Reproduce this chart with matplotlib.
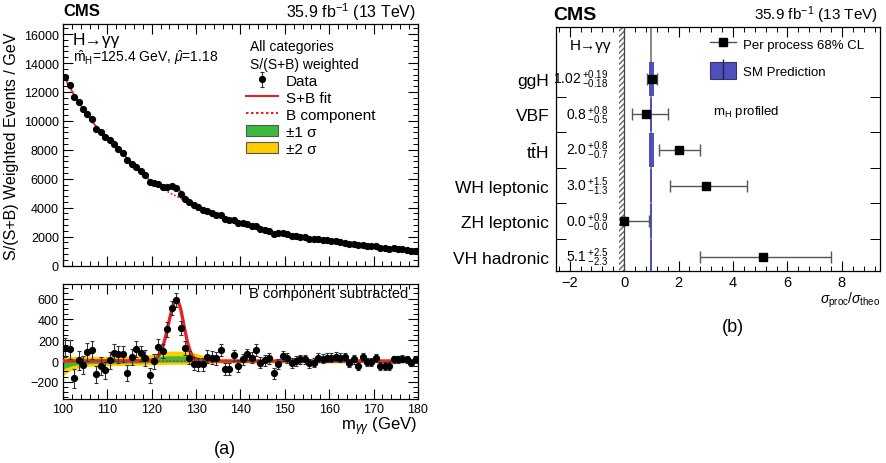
import numpy as np
import matplotlib
matplotlib.use("Agg")
import matplotlib.pyplot as plt
from matplotlib.patches import Patch, Rectangle
from matplotlib.lines import Line2D
from matplotlib.legend_handler import HandlerTuple
from matplotlib.ticker import MultipleLocator, FixedLocator, NullFormatter

plt.rcParams['font.family'] = ['Liberation Sans', 'DejaVu Sans']
plt.rcParams['mathtext.fontset'] = 'custom'
plt.rcParams['mathtext.rm'] = 'Liberation Sans'
plt.rcParams['mathtext.it'] = 'Liberation Sans:italic'
plt.rcParams['mathtext.bf'] = 'Liberation Sans:bold'

# ---- (a) diphoton mass spectrum, 1 GeV bins from 100 to 180 GeV ----
mass = np.arange(100.5, 180.0, 1.0)

# fitted background component at each bin centre (weighted events / GeV)
bkg = np.array([
    12900, 12350, 11800, 11300, 10850, 10400, 10000, 9600, 9250, 8950,
    8650, 8300, 8000, 7700, 7400, 7000, 6700, 6450, 6200, 5900,
    5680, 5480, 5300, 5120, 4950, 4800, 4640, 4480, 4330, 4180,
    4050, 3900, 3760, 3630, 3500, 3380, 3290, 3200, 3110, 3020,
    2920, 2830, 2730, 2640, 2550, 2460, 2390, 2320, 2250, 2190,
    2130, 2080, 2030, 1980, 1930, 1880, 1830, 1790, 1750, 1710,
    1660, 1620, 1580, 1550, 1510, 1470, 1440, 1400, 1370, 1340,
    1300, 1270, 1230, 1200, 1170, 1130, 1100, 1070, 1030, 1000,
], dtype=float)

# data minus background component
resid = np.array([
    128, 112, -167, 6, -38, 87, 103, -128, -48, -90,
    6, 80, 64, 67, -112, 42, 119, 74, 29, -138,
    0, 138, 96, 304, 513, 583, 320, 128, 32, -26,
    -32, -32, 42, 32, 26, 103, -74, -80, 54, -48,
    16, 64, 32, 106, -16, 6, 26, -119, -32, 48,
    26, -22, 0, 16, 16, -22, -16, 32, 22, 32,
    32, 42, 32, 38, -22, 16, -48, 42, -10, -10,
    32, -48, -48, -48, 16, 16, 22, 16, -16, 16,
], dtype=float)

err = np.array([
    92, 91, 90, 89, 88, 87, 86, 85, 84, 83,
    82, 81, 80, 79, 78, 77, 76, 75, 74, 73,
    72, 71, 70, 69, 68, 68, 67, 66, 65, 64,
    63, 62, 61, 60, 60, 59, 58, 57, 56, 56,
    55, 54, 53, 53, 52, 51, 50, 50, 49, 48,
    48, 47, 46, 46, 45, 45, 44, 44, 43, 43,
    42, 42, 41, 41, 40, 40, 39, 39, 38, 38,
    37, 37, 36, 36, 35, 35, 35, 34, 34, 34,
], dtype=float)

data = bkg + resid

# fitted signal component on a 0.5 GeV grid
sig_mass = np.arange(119.5, 132.01, 0.5)
sig = np.array([
    2, 5, 12, 25, 48, 85, 140, 215, 305, 400, 490, 560, 590,
    570, 505, 400, 290, 190, 115, 62, 30, 13, 5, 2, 0, 0,
], dtype=float)

# background-fit uncertainty bands (relative to the B component)
band_mass = [100, 101, 102, 104, 106, 110, 115, 118, 120, 122, 124, 126, 128,
             130, 132, 134, 140, 150, 160, 170, 180]
band2_lo = [-140, -110, -85, -60, -50, -45, -42, -40, -38, -35, -32, -32, -32,
            -30, -25, -20, -20, -18, -18, -18, -20]
band2_hi = [45, 45, 45, 45, 45, 45, 45, 50, 65, 85, 95, 95, 90,
            75, 50, 25, 20, 18, 18, 18, 20]
band1_lo = [-75, -60, -45, -30, -25, -22, -20, -18, -15, -12, -10, -10, -10,
            -10, -10, -10, -9, -8, -8, -8, -10]
band1_hi = [20, 20, 20, 20, 20, 20, 20, 25, 35, 45, 50, 50, 48,
            40, 25, 12, 9, 8, 8, 8, 10]

# ---- (b) signal strength per production process ----
processes = ['ggH', 'VBF', r't$\bar{\rm t}$H', 'WH leptonic', 'ZH leptonic', 'VH hadronic']
mu = [1.02, 0.8, 2.0, 3.0, 0.0, 5.1]
mu_up = [0.19, 0.8, 0.8, 1.5, 0.9, 2.5]
mu_dn = [0.18, 0.5, 0.7, 1.3, 0.0, 2.3]
mu_dec = [2, 1, 1, 1, 1, 1]
sm_unc = [0.09, 0.04, 0.09, 0.03, 0.03, 0.04]

RED = '#e3242b'
GREEN = '#3cba3c'
YELLOW = '#ffcc00'
BLUE = '#5050bd'

fig = plt.figure(figsize=(8.87, 4.64), dpi=100)
W, H = 887.0, 464.0


def frame(x0, y0, x1, y1):
    return [x0 / W, 1 - y1 / H, (x1 - x0) / W, (y1 - y0) / H]


def root_ticks(ax):
    ax.tick_params(which='both', direction='in', top=True, right=True,
                   labelsize=9, pad=3)
    ax.tick_params(which='major', length=7, width=0.8)
    ax.tick_params(which='minor', length=3.5, width=0.7)
    for s in ax.spines.values():
        s.set_linewidth(0.9)


ax1 = fig.add_axes(frame(63, 25, 418, 266.5))
ax2 = fig.add_axes(frame(63, 285, 418, 399.5))
ax3 = fig.add_axes(frame(556, 28, 880, 272))

# top panel: full spectrum
sb_top = bkg.copy()
idx = np.searchsorted(mass, sig_mass[::2])
sb_top[idx] += sig[::2]
ax1.plot(mass, bkg, color=RED, lw=1.1, ls=(0, (1.2, 1.2)), zorder=2)
ax1.plot(mass, sb_top, color=RED, lw=1.2, zorder=3)
ax1.errorbar(mass, data, yerr=err, fmt='o', color='black', ms=4.2,
             elinewidth=0.8, capsize=0, zorder=4)
ax1.set_xlim(100, 180)
ax1.set_ylim(0, 16700)
ax1.xaxis.set_major_locator(MultipleLocator(10))
ax1.xaxis.set_minor_locator(MultipleLocator(2))
ax1.yaxis.set_major_locator(MultipleLocator(2000))
ax1.yaxis.set_minor_locator(MultipleLocator(400))
ax1.xaxis.set_major_formatter(NullFormatter())
root_ticks(ax1)

ax1.text(0.028, 0.937, 'H\u2192\u03b3\u03b3', transform=ax1.transAxes,
         fontsize=12.5, va='center', ha='left')
ax1.text(0.028, 0.866, r'$\hat{\rm m}_{\rm H}$=125.4 GeV, $\hat{\mu}$=1.18',
         transform=ax1.transAxes, fontsize=10, va='center', ha='left')
ax1.text(0.527, 0.909, 'All categories', transform=ax1.transAxes,
         fontsize=10, va='center', ha='left')
ax1.text(0.527, 0.834, 'S/(S+B) weighted', transform=ax1.transAxes,
         fontsize=10, va='center', ha='left')

# bottom panel: background subtracted
ax2.fill_between(band_mass, band2_lo, band2_hi, color=YELLOW, lw=0, zorder=1)
ax2.fill_between(band_mass, band1_lo, band1_hi, color=GREEN, lw=0, zorder=2)
ax2.axhline(0, color=RED, lw=1.1, ls=(0, (1.2, 1.2)), zorder=3)
ax2.plot(np.concatenate(([100], sig_mass, [180])),
         np.concatenate(([0], sig, [0])), color=RED, lw=2.4, zorder=4)
data_art = ax2.errorbar(mass, resid, yerr=err, fmt='o', color='black', ms=4.2,
                        elinewidth=0.8, ecolor='#333333', capsize=1.3,
                        capthick=0.8, zorder=5)
ax2.set_xlim(100, 180)
ax2.set_ylim(-360, 740)
ax2.xaxis.set_major_locator(MultipleLocator(10))
ax2.xaxis.set_minor_locator(MultipleLocator(2))
ax2.yaxis.set_major_locator(MultipleLocator(200))
ax2.yaxis.set_minor_locator(MultipleLocator(50))
root_ticks(ax2)
ax2.set_yticks([-200, 0, 200, 400, 600])
ax2.text(0.972, 0.92, 'B component subtracted', transform=ax2.transAxes,
         fontsize=10.5, va='center', ha='right')

handles = [
    data_art,
    Line2D([], [], color=RED, lw=1.5),
    Line2D([], [], color=RED, lw=1.5, ls=(0, (1.2, 1.2))),
    Patch(facecolor=GREEN, edgecolor='#555555', lw=0.8),
    Patch(facecolor=YELLOW, edgecolor='#555555', lw=0.8),
]
labels = ['Data', 'S+B fit', 'B component', '\u00b11 \u03c3', '\u00b12 \u03c3']
ax1.legend(handles, labels, loc='upper left', bbox_to_anchor=(0.515, 0.795),
           frameon=False, fontsize=11, borderaxespad=0, borderpad=0,
           handlelength=2.1, handletextpad=0.5, labelspacing=0.2)

fig.text(12 / W, 1 - 146 / H, 'S/(S+B) Weighted Events / GeV', rotation=90,
         fontsize=11.5, ha='center', va='center')
fig.text(417 / W, 1 - 427 / H, r'm$_{\gamma\gamma}$ (GeV)', fontsize=12,
         ha='right', va='center')
fig.text(63 / W, 1 - 12 / H, 'CMS', fontsize=12, fontweight='bold',
         ha='left', va='center')
fig.text(416 / W, 1 - 12 / H, r'35.9 fb$^{\mathregular{-1}}$ (13 TeV)',
         fontsize=11.5, ha='right', va='center')
fig.text(225 / W, 1 - 450 / H, '(a)', fontsize=13, ha='center', va='center')

# right panel: signal strengths
ypos = np.arange(len(processes), 0, -1)
ax3.axvspan(-0.18, 0, facecolor='white', edgecolor='#666666', hatch='//////',
            lw=0, zorder=1)
ax3.axvline(0, color='#444444', lw=0.9, zorder=2)
ax3.axvline(1, color='#666666', lw=1.1, zorder=2)
for y, u in zip(ypos, sm_unc):
    ax3.add_patch(Rectangle((1 - u, y - 0.47), 2 * u, 0.94, facecolor=BLUE,
                            edgecolor='none', zorder=3))
ax3.errorbar(mu, ypos, xerr=[mu_dn, mu_up], fmt='s', color='black', ms=6,
             ecolor='#555555', elinewidth=1.0, capsize=4.5, capthick=1.0,
             zorder=4)
for y, m, up, dn, d in zip(ypos, mu, mu_up, mu_dn, mu_dec):
    ax3.text(-0.58, y, rf'${m:.{d}f}\,{{}}^{{+{up:.{d}f}}}_{{-{dn:.{d}f}}}$',
             fontsize=10, ha='right', va='center', zorder=5)
ax3.text(-1.25, 6.96, 'H\u2192\u03b3\u03b3', fontsize=11, ha='center',
         va='center')

ax3.set_xlim(-2.5, 9.4)
ax3.set_ylim(0.6, 7.46)
ax3.xaxis.set_major_locator(MultipleLocator(2))
ax3.xaxis.set_minor_locator(MultipleLocator(0.4))
ax3.set_yticks(ypos)
ax3.set_yticklabels(processes)
ax3.yaxis.set_minor_locator(FixedLocator(ypos[:-1] - 0.5))
root_ticks(ax3)
ax3.tick_params(axis='y', which='major', length=0, pad=5, labelsize=12.5)
ax3.tick_params(axis='y', which='minor', length=7)
ax3.tick_params(axis='x', labelsize=10.5)

sm_handle = (Patch(facecolor=BLUE, edgecolor='#333366', lw=0.8),
             Line2D([], [], ls='none', marker='|', ms=15, mew=1.0,
                    color='#222244'))
leg_handles = [
    Line2D([], [], color='#555555', lw=1.0, marker='s', ms=6,
           markerfacecolor='black', markeredgecolor='black'),
    sm_handle,
]
ax3.legend(leg_handles, ['Per process 68% CL', 'SM Prediction'],
           handler_map={tuple: HandlerTuple(ndivide=1)},
           loc='upper left', bbox_to_anchor=(0.475, 0.965), frameon=False,
           fontsize=9.5, borderaxespad=0, borderpad=0, handlelength=2.0,
           handleheight=1.6, handletextpad=0.5, labelspacing=0.75)
ax3.text(0.485, 0.656, r'm$_{\rm H}$ profiled', transform=ax3.transAxes,
         fontsize=9.5, ha='left', va='center')

fig.text(553 / W, 1 - 15 / H, 'CMS', fontsize=14, fontweight='bold',
         ha='left', va='center')
fig.text(878 / W, 1 - 15 / H, r'35.9 fb$^{\mathregular{-1}}$ (13 TeV)',
         fontsize=11, ha='right', va='center')
fig.text(880 / W, 1 - 300 / H, r'$\sigma_{\rm proc}/\sigma_{\rm theo}$',
         fontsize=10, ha='right', va='center')
fig.text(733 / W, 1 - 327 / H, '(b)', fontsize=13, ha='center', va='center')

fig.savefig('out.png', dpi=100)
